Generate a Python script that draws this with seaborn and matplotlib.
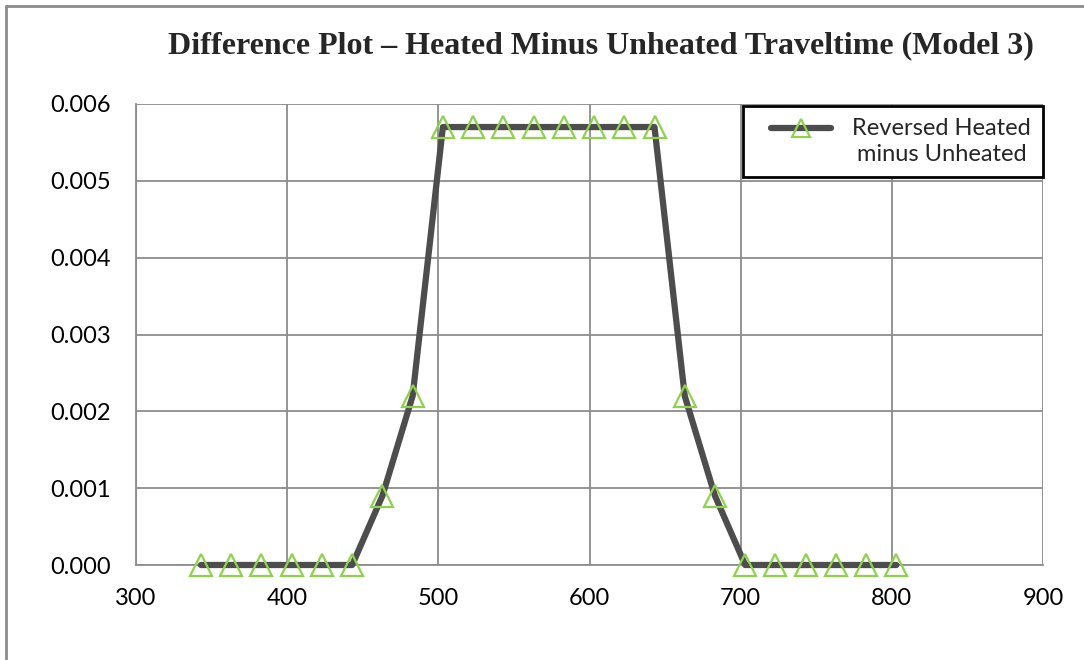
import matplotlib
matplotlib.use("Agg")
import matplotlib.pyplot as plt
import seaborn as sns
import pandas as pd
from matplotlib.lines import Line2D
from matplotlib.legend_handler import HandlerLine2D

# Travel-time samples and heated-minus-unheated differences
traveltime = [343, 363, 383, 403, 423, 443, 463, 483, 503, 523, 543, 563,
              583, 603, 623, 643, 663, 683, 703, 723, 743, 763, 783, 803]
difference = [0.0, 0.0, 0.0, 0.0, 0.0, 0.0, 0.0009, 0.0022,
              0.0057, 0.0057, 0.0057, 0.0057, 0.0057, 0.0057, 0.0057, 0.0057,
              0.0022, 0.0009, 0.0, 0.0, 0.0, 0.0, 0.0, 0.0]
x_ticks = [300, 400, 500, 600, 700, 800, 900]
y_ticks = [0.000, 0.001, 0.002, 0.003, 0.004, 0.005, 0.006]
series_name = "Reversed Heated\nminus Unheated"

df = pd.DataFrame({"x": traveltime, "y": difference})

sns.set_theme(style="white")
plt.rcParams["font.family"] = ["Lato", "DejaVu Sans"]

fig = plt.figure(figsize=(10.84, 6.6), dpi=100)
W, H = 1084, 660
ax = fig.add_axes([136 / W, 1 - 565 / H, (1043 - 136) / W, (565 - 104) / H])

line_color = "#4d4d4d"
marker_color = "#8fd14f"

sns.lineplot(data=df, x="x", y="y", ax=ax, color=line_color, linewidth=4.5,
             marker="^", markersize=16, markerfacecolor="none",
             markeredgecolor=marker_color, markeredgewidth=1.6, zorder=3,
             clip_on=False)

ax.set_xlim(300, 900)
ax.set_ylim(0, 0.006)
ax.set_xticks(x_ticks)
ax.set_yticks(y_ticks)
ax.set_xticklabels([str(v) for v in x_ticks])
ax.set_yticklabels([f"{v:.3f}" for v in y_ticks])
ax.set_xlabel("")
ax.set_ylabel("")

grid_c = "#8c8c8c"
ax.grid(True, color=grid_c, linewidth=1.3)
ax.set_axisbelow(True)
for s in ["top", "right"]:
    ax.spines[s].set_visible(False)
for s in ["left", "bottom"]:
    ax.spines[s].set_color(grid_c)
    ax.spines[s].set_linewidth(1.3)
ax.tick_params(axis="both", which="both", length=6, width=1.3, color=grid_c,
               labelsize=17, labelcolor="black", direction="out")
ax.tick_params(axis="x", pad=10.5)
ax.tick_params(axis="y", pad=12)

fig.text(601 / W, 1 - 46 / H,
         "Difference Plot \u2013 Heated Minus Unheated Traveltime (Model 3)",
         ha="center", va="center", fontsize=23, fontweight="bold",
         family=["Liberation Serif", "DejaVu Serif"])


class RaisedLineHandler(HandlerLine2D):
    """Legend sample drawn level with the first line of a wrapped label,
    inset from both ends of its handle box."""

    def __init__(self, raise_by=0.0, inset_left=0.0, inset_right=0.0, **kw):
        super().__init__(**kw)
        self.raise_by = raise_by
        self.inset_left = inset_left
        self.inset_right = inset_right

    def create_artists(self, legend, orig_handle, xdescent, ydescent,
                       width, height, fontsize, trans):
        return super().create_artists(
            legend, orig_handle,
            xdescent - self.inset_left,
            ydescent - 2 * self.raise_by,
            width - self.inset_left - self.inset_right,
            height, fontsize, trans)


handle = Line2D([], [], color=line_color, linewidth=4.5, marker="^",
                markersize=13, markerfacecolor="none",
                markeredgecolor=marker_color, markeredgewidth=1.6)
leg = ax.legend([handle], [series_name], loc="upper right",
                bbox_to_anchor=(1.0, 0.996), frameon=True, fancybox=False,
                fontsize=17, handlelength=3.75, borderpad=0.5,
                handletextpad=0.4, labelspacing=0.2, borderaxespad=0.0,
                handler_map={handle: RaisedLineHandler(raise_by=10,
                                                       inset_left=12,
                                                       inset_right=9)})
leg.get_frame().set_edgecolor("black")
leg.get_frame().set_linewidth(2)
leg.get_frame().set_alpha(1)
for t in leg.get_texts():
    t.set_multialignment("center")
    t.set_linespacing(1.3)

# Outer chart-area border (left and top visible)
fig.add_artist(Line2D([6 / W, 6 / W], [0, 1 - 6 / H], color="#8c8c8c",
                      linewidth=2, transform=fig.transFigure))
fig.add_artist(Line2D([6 / W, 1], [1 - 6 / H, 1 - 6 / H], color="#8c8c8c",
                      linewidth=2, transform=fig.transFigure))

fig.savefig("out.png", dpi=100, facecolor="white")
